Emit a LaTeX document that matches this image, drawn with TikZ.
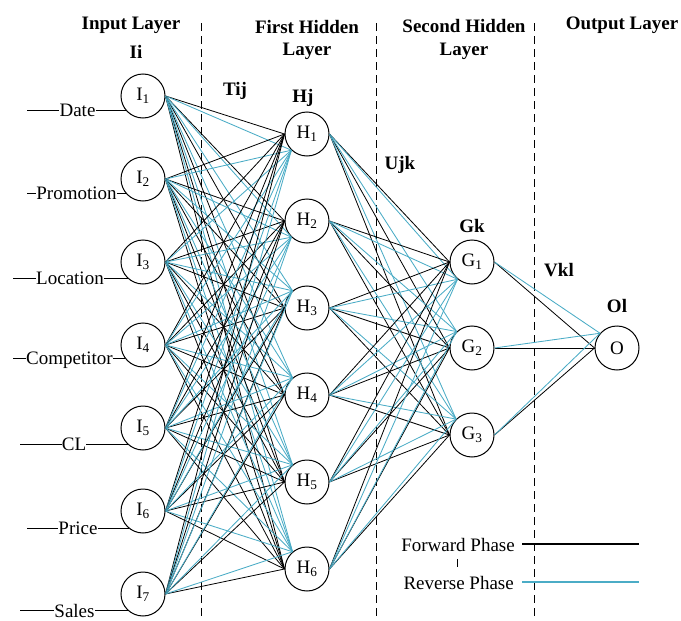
\documentclass[tikz,border=0pt]{standalone}
\usepackage{fontspec}
\setmainfont{LiberationSerif}[Extension=.ttf,UprightFont=*-Regular,BoldFont=*-Bold,ItalicFont=*-Italic,BoldItalicFont=*-BoldItalic]
\definecolor{rev}{HTML}{4BACC6}
\begin{document}
\begin{tikzpicture}[x=1pt,y=-1pt,
  neuron/.style={circle,draw,line width=1pt,minimum size=44pt,inner sep=0pt,font=\fontsize{19}{22}\selectfont},
  ttl/.style={font=\fontsize{19}{22}\selectfont\bfseries,inner sep=0pt,anchor=base},
  lab/.style={font=\fontsize{19}{22}\selectfont,inner sep=0pt,text height=12.6pt,text depth=0pt},
  leg/.style={font=\fontsize{19}{22}\selectfont,inner sep=0pt,anchor=base east},
  fw/.style={black,line width=0.8pt},
  rv/.style={rev,line width=0.85pt},
  sepline/.style={line width=1pt,dash pattern=on 8pt off 5pt}]
\useasboundingbox (0,0) rectangle (681,621);

% separators
\draw[sepline] (201,23) -- (201,621);
\draw[sepline] (376,23) -- (376,621);
\draw[sepline] (534,23) -- (534,621);

% neurons
\foreach \i in {1,...,7}
  \node[neuron] (I\i) at (143,{96+83*(\i-1)}) {I\textsubscript{\i}};
\foreach \j in {1,...,6}
  \node[neuron] (H\j) at (307,{134+87*(\j-1)}) {H\textsubscript{\j}};
\node[neuron] (G1) at (472,262) {G\textsubscript{1}};
\node[neuron] (G2) at (472,348) {G\textsubscript{2}};
\node[neuron] (G3) at (472,435) {G\textsubscript{3}};
\node[neuron] (O) at (617,348) {O};

% input -> first hidden
\foreach \i in {1,...,7}
  \foreach \j/\a in {1/226,2/226,3/130,4/130,5/130,6/130}{
    \draw[fw] (I\i.east) -- (H\j.west);
    \draw[rv] (I\i.east) -- (H\j.\a);
  }
% first hidden -> second hidden
\foreach \j in {1,...,6}
  \foreach \k/\a in {1/230,2/133,3/135}{
    \draw[fw] (H\j.east) -- (G\k.west);
    \draw[rv] (H\j.east) -- (G\k.\a);
  }
% second hidden -> output
\foreach \k in {1,2,3}{
  \draw[fw] (G\k.east) -- (O.west);
  \draw[rv] (G\k.east) -- (O.139);
}

% input labels
\foreach \n/\t/\a/\tx/\lx in {1/Date/220/77.5/27, 2/Promotion/220/76.5/27, 3/Location/227/70/13, 4/Competitor/216/69.5/13, 5/CL/227/74/20, 6/Price/231/78/27, 7/Sales/228/74.5/20}{
  \coordinate (cx\n) at (\tx,0);
  \coordinate (lx\n) at (\lx,0);
  \node[lab] (t\n) at (I\n.\a -| cx\n) {\t};
  \coordinate (s\n) at (t\n.west -| lx\n);
  \draw[line width=0.9pt] (s\n) -- (t\n.west);
  \draw[line width=0.9pt] (t\n.east) -- (I\n.\a);
}

% titles
\node[ttl] (tin) at (131,30) {Input Layer};
\node[ttl] (tii) at (136,58) {Ii};
\node[ttl] (tfh) at (307,33) {First Hidden};
\node[ttl] (tfl) at (307,56) {Layer};
\node[ttl] (tsh) at (464,32) {Second Hidden};
\node[ttl] (tsl) at (464,56) {Layer};
\node[ttl] (tout) at (622,30) {Output Layer};
\node[ttl] (ttij) at (235,95) {Tij};
\node[ttl] (thj) at (303,102) {Hj};
\node[ttl] (tujk) at (400,169) {Ujk};
\node[ttl] (tgk) at (472,232) {Gk};
\node[ttl] (tvkl) at (559,276) {Vkl};
\node[ttl] (tol) at (617,312) {Ol};

% legend
\node[leg] (fwd) at (515,551) {Forward Phase};
\node[leg] (rvs) at (514,589) {Reverse Phase};
\coordinate (fwdA) at (522,544);
\coordinate (fwdB) at (639,544);
\coordinate (rvsA) at (522,582);
\coordinate (rvsB) at (639,582);
\draw[black,line width=2pt] (fwdA) -- (fwdB);
\draw[rev,line width=2.4pt] (rvsA) -- (rvsB);
\draw[line width=0.6pt] (457,559) -- (457,567);
\end{tikzpicture}
\end{document}
